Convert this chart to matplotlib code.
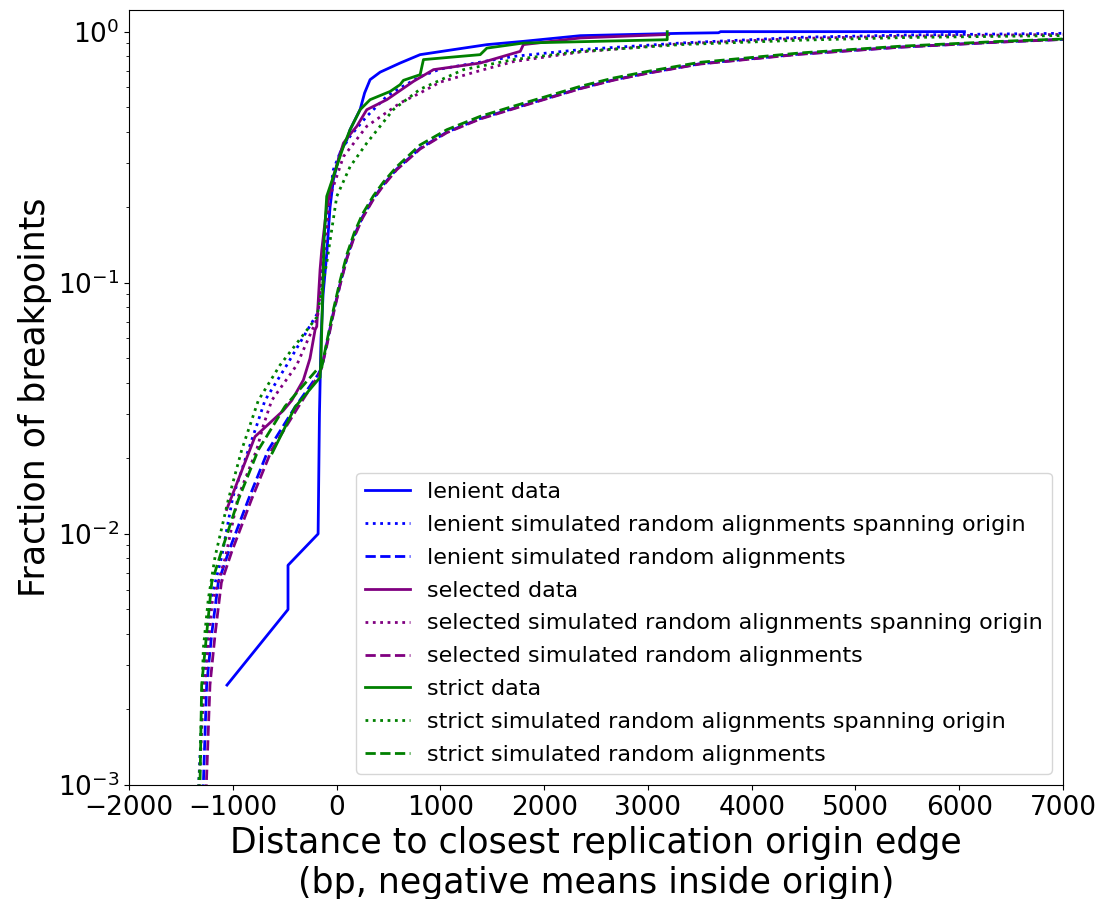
import matplotlib
matplotlib.use('Agg')
import matplotlib.pyplot as plt

# lenient
lenient_data_x = [-1056, -468, -468, -178, -165, -150, -130, -95, -63, -31, 34, 98, 130, 162, 227, 270, 323, 420, 612, 805, 1125, 1450, 1800, 2350, 3310, 3680, 3700, 6050]
lenient_data_y = [0.0025, 0.005, 0.0075, 0.01, 0.03, 0.06, 0.09, 0.13, 0.2, 0.257, 0.33, 0.37, 0.407, 0.433, 0.49, 0.57, 0.644, 0.69, 0.75, 0.81, 0.848, 0.888, 0.915, 0.964, 0.985, 0.99, 1.0, 1.0]
lenient_span_x = [-1340, -1300, -1220, -1107, -1000, -850, -770, -690, -480, -224, -180, -111, -31, 34, 130, 291, 484, 612, 800, 1000, 1705, 2350, 3312, 4470, 5500, 7000]
lenient_span_y = [0.0008, 0.0018, 0.0053, 0.0081, 0.014, 0.0216, 0.027, 0.034, 0.047, 0.071, 0.076, 0.163, 0.282, 0.33, 0.383, 0.46, 0.553, 0.597, 0.66, 0.71, 0.797, 0.848, 0.901, 0.95, 0.97, 0.985]
lenient_rand_x = [-1300, -1284, -1252, -1203, -1140, -1040, -850, -658, -400, -180, -143, -95, -31, 34, 100, 170, 250, 355, 452, 580, 805, 1062, 1384, 1705, 2027, 2350, 2670, 3000, 3500, 4470, 5430, 6400, 7000]
lenient_rand_y = [0.0008, 0.001, 0.0025, 0.004, 0.0064, 0.0085, 0.0137, 0.0216, 0.032, 0.043, 0.046, 0.057, 0.076, 0.099, 0.126, 0.154, 0.183, 0.217, 0.246, 0.284, 0.343, 0.398, 0.451, 0.495, 0.543, 0.595, 0.643, 0.685, 0.745, 0.815, 0.868, 0.91, 0.932]

# selected
selected_data_x = [-1059, -786, -513, -432, -320, -256, -207, -191, -159, -143, -95, -31, 66, 130, 195, 291, 484, 741, 934, 1384, 1770, 1800, 2350, 3150, 3200]
selected_data_y = [0.0125, 0.0244, 0.031, 0.034, 0.041, 0.05, 0.065, 0.067, 0.113, 0.135, 0.2, 0.265, 0.36, 0.39, 0.42, 0.489, 0.536, 0.634, 0.706, 0.75, 0.835, 0.888, 0.944, 0.973, 0.975]
selected_span_x = [-1335, -1290, -1200, -1070, -950, -770, -706, -625, -384, -200, -180, -111, -63, 66, 291, 612, 805, 1000, 1384, 1705, 2350, 3312, 4470, 5500, 7000]
selected_span_y = [0.0008, 0.002, 0.0053, 0.0081, 0.014, 0.0216, 0.027, 0.034, 0.047, 0.07, 0.075, 0.14, 0.221, 0.318, 0.42, 0.52, 0.57, 0.63, 0.7, 0.76, 0.83, 0.895, 0.94, 0.96, 0.975]
selected_rand_x = [-1270, -1255, -1220, -1170, -1110, -1010, -820, -625, -370, -170, -143, -95, -31, 34, 100, 170, 250, 355, 452, 580, 805, 1062, 1384, 1705, 2027, 2350, 2670, 3000, 3500, 4470, 5430, 6400, 7000]
selected_rand_y = [0.0008, 0.001, 0.0025, 0.004, 0.0064, 0.0085, 0.0137, 0.0216, 0.032, 0.043, 0.046, 0.056, 0.075, 0.098, 0.125, 0.152, 0.181, 0.215, 0.244, 0.282, 0.341, 0.396, 0.449, 0.493, 0.541, 0.593, 0.641, 0.683, 0.743, 0.813, 0.867, 0.909, 0.931]

# strict
strict_data_x = [-620, -400, -159, -150, -143, -120, -95, -31, 66, 130, 227, 323, 516, 612, 644, 805, 837, 1384, 1448, 1801, 3186, 3186]
strict_data_y = [0.021, 0.032, 0.042, 0.05, 0.065, 0.15, 0.221, 0.265, 0.349, 0.407, 0.489, 0.536, 0.578, 0.615, 0.64, 0.674, 0.774, 0.81, 0.86, 0.901, 0.929, 1.0]
strict_span_x = [-1345, -1316, -1284, -1236, -1171, -1043, -914, -754, -545, -224, -190, -95, 2, 130, 291, 548, 805, 1223, 1705, 2350, 3312, 4470, 5500, 7000]
strict_span_y = [0.0008, 0.0012, 0.0035, 0.0055, 0.0081, 0.0137, 0.0216, 0.034, 0.047, 0.07, 0.073, 0.12, 0.221, 0.29, 0.36, 0.49, 0.59, 0.706, 0.774, 0.835, 0.888, 0.925, 0.948, 0.965]
strict_rand_x = [-1340, -1316, -1300, -1252, -1203, -1110, -946, -754, -497, -191, -143, -95, -31, 34, 100, 170, 250, 355, 452, 580, 805, 1062, 1384, 1705, 2027, 2350, 2670, 3000, 3500, 4470, 5430, 6400, 7000]
strict_rand_y = [0.0008, 0.001, 0.0025, 0.004, 0.0064, 0.0085, 0.0137, 0.0216, 0.0322, 0.045, 0.046, 0.058, 0.078, 0.102, 0.13, 0.158, 0.188, 0.222, 0.252, 0.29, 0.354, 0.407, 0.46, 0.505, 0.553, 0.606, 0.654, 0.695, 0.755, 0.823, 0.875, 0.915, 0.935]

fig = plt.figure(figsize=(11.17, 8.99), dpi=100)
ax = fig.add_axes([0.1155, 0.1268, 0.8362, 0.8621])

lw = 2
ax.plot(lenient_data_x, lenient_data_y, color='blue', linestyle='-', lw=lw, label='lenient data')
ax.plot(lenient_span_x, lenient_span_y, color='blue', linestyle=':', lw=lw, label='lenient simulated random alignments spanning origin')
ax.plot(lenient_rand_x, lenient_rand_y, color='blue', linestyle='--', lw=lw, label='lenient simulated random alignments')
ax.plot(selected_data_x, selected_data_y, color='purple', linestyle='-', lw=lw, label='selected data')
ax.plot(selected_span_x, selected_span_y, color='purple', linestyle=':', lw=lw, label='selected simulated random alignments spanning origin')
ax.plot(selected_rand_x, selected_rand_y, color='purple', linestyle='--', lw=lw, label='selected simulated random alignments')
ax.plot(strict_data_x, strict_data_y, color='green', linestyle='-', lw=lw, label='strict data')
ax.plot(strict_span_x, strict_span_y, color='green', linestyle=':', lw=lw, label='strict simulated random alignments spanning origin')
ax.plot(strict_rand_x, strict_rand_y, color='green', linestyle='--', lw=lw, label='strict simulated random alignments')

ax.set_yscale('log')
ax.set_xlim(-2000, 7000)
ax.set_ylim(1e-3, 1.22)

ax.set_xlabel('Distance to closest replication origin edge\n(bp, negative means inside origin)', fontsize=25)
ax.set_ylabel('Fraction of breakpoints', fontsize=25)
ax.tick_params(axis='both', which='major', labelsize=19)

ax.legend(loc='lower right', fontsize=16, labelspacing=0.58)

plt.savefig('out.png', dpi=100)
